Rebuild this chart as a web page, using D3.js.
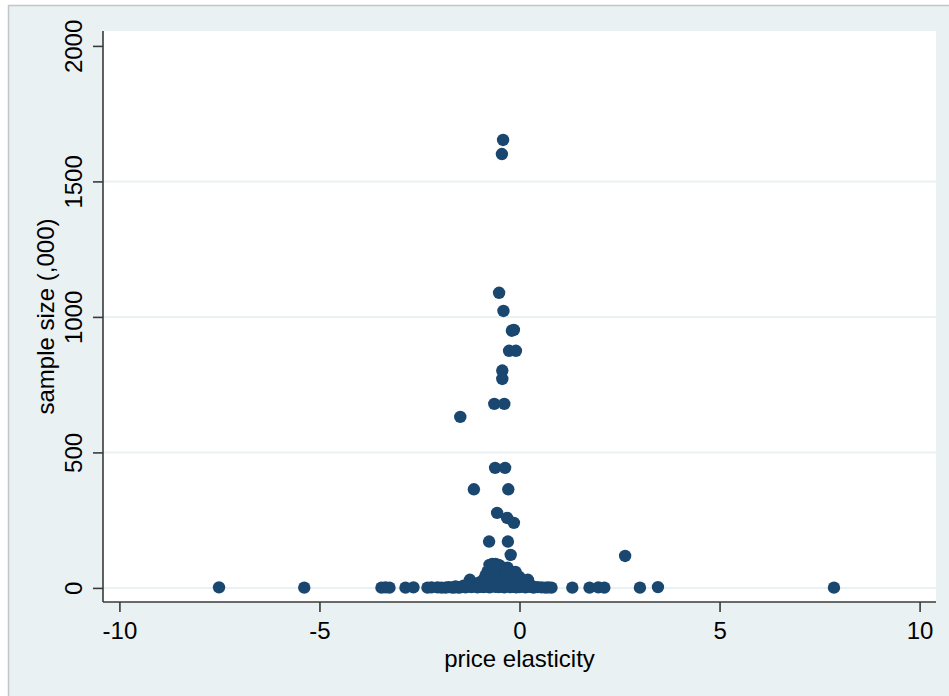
<!DOCTYPE html>
<html>
<head>
<meta charset="utf-8">
<script src="https://cdn.jsdelivr.net/npm/d3@7"></script>
<style>
  html, body { margin: 0; padding: 0; background: #ffffff; }
  svg { display: block; }
  text { font-family: "Liberation Sans", Arial, sans-serif; }
</style>
</head>
<body>
<svg id="chart" width="949" height="696"></svg>
<script>
// ---- data (price elasticity vs sample size in thousands) ----
const elasticity = [
  // baseline (tiny sample sizes)
  -7.51, -5.38, -3.45, -3.35, -3.25, -2.85, -2.65, -2.30, -2.20, -2.05, -1.95, -1.85,
  -1.78, -1.70, -1.65, -1.60, -1.55,
  -1.50, -1.42, -1.35, -1.28, -1.20, -1.12, -1.05, -0.98, -0.90, -0.82, -0.75, -0.68,
  -0.60, -0.52, -0.45, -0.38, -0.30, -0.22, -0.15, -0.08, 0.00, 0.08, 0.15, 0.25,
  0.35, 0.45, 0.55, 0.65, 0.72, 0.80, 1.32, 1.75, 1.97, 2.12, 3.01, 3.46, 7.86,
  // low cluster
  -1.24, -1.15, -1.00, -0.90, -0.85, -0.80, -0.75, -0.68, -0.60, -0.52, -0.45, -0.40,
  -0.35, -0.30, -0.25, -0.20, -0.15, -0.10, 0.00, 0.10, 0.21, -0.60, -0.50, -0.70,
  -0.95, 0.30, -1.40, -1.60,
  -0.85, -0.78, -0.72, -0.65, -0.55, -0.48, -0.42, -0.33, -0.27, -0.18, -0.12, -0.05,
  0.05, -0.65, -0.50,
  // upper points
  2.64, -0.22, -0.76, -0.29, -0.56, -0.31, -0.14, -1.14, -0.28, -0.61, -0.36,
  -1.48, -0.63, -0.38, -0.43, -0.43, -0.26, -0.09, -0.19, -0.14, -0.40, -0.51,
  -0.44, -0.41
];
const sampleSize = [
  // baseline
  2, 1, 1, 2, 1, 1, 2, 1, 2, 2, 1, 1,
  3, 2, 1, 3, 2,
  1, 4, 2, 5, 3, 6, 2, 4, 3, 5, 2, 6,
  4, 3, 5, 2, 6, 3, 4, 2, 3, 5, 2, 4,
  1, 3, 2, 1, 2, 1, 1, 1, 2, 1, 1, 3, 1,
  // low cluster
  30, 12, 20, 30, 45, 60, 85, 88, 88, 85, 70, 55,
  40, 75, 50, 60, 35, 59, 40, 20, 30, 20, 40, 50,
  10, 8, 8, 5,
  20, 35, 65, 75, 60, 80, 30, 65, 20, 45, 25, 30,
  15, 40, 15,
  // upper points
  118, 122, 171, 171, 277, 258, 240, 364, 364, 443, 443,
  631, 679, 679, 802, 771, 875, 875, 949, 952, 1022, 1089,
  1601, 1653
];
const xTicks = [-10, -5, 0, 5, 10];
const yTicks = [0, 500, 1000, 1500, 2000];
const gridValues = [0, 500, 1000, 1500];
const xTitle = "price elasticity";
const yTitle = "sample size (,000)";

const points = elasticity.map((e, i) => ({ x: e, y: sampleSize[i] }));

// ---- layout ----
const W = 949, H = 696;
const plot = { left: 103, right: 936, top: 31, bottom: 602 };
const svg = d3.select("#chart");

// outer graph region
svg.append("rect")
  .attr("x", 8.5).attr("y", 5.5)
  .attr("width", W + 10).attr("height", H + 10)
  .attr("fill", "#eaf1f3")
  .attr("stroke", "#c3c6c8").attr("stroke-width", 1.5);

// plot region
svg.append("rect")
  .attr("x", plot.left).attr("y", plot.top)
  .attr("width", plot.right - plot.left).attr("height", plot.bottom - plot.top)
  .attr("fill", "#ffffff");

const x = d3.scaleLinear().domain([-10.41, 10.41]).range([plot.left, plot.right]);
const y = d3.scaleLinear().domain([-52, 2055]).range([plot.bottom, plot.top]);

// gridlines
svg.append("g").selectAll("line").data(gridValues).join("line")
  .attr("x1", plot.left).attr("x2", plot.right)
  .attr("y1", d => y(d)).attr("y2", d => y(d))
  .attr("stroke", "#eaf1f3").attr("stroke-width", 2);

// points
svg.append("g").selectAll("circle").data(points).join("circle")
  .attr("cx", d => x(d.x)).attr("cy", d => y(d.y))
  .attr("r", 6.2)
  .attr("fill", "#1a476f");

const axisColor = "#3a3a3a";
const fontSize = 24;

// x axis
const gx = svg.append("g").attr("transform", `translate(0,${plot.bottom})`)
  .call(d3.axisBottom(x).tickValues(xTicks).tickSize(10).tickSizeOuter(0).tickFormat(d3.format("d")));
gx.select(".domain").attr("stroke", axisColor).attr("stroke-width", 1.6)
  .attr("d", `M${plot.left},0H${plot.right}`);
gx.selectAll(".tick line").attr("stroke", axisColor).attr("stroke-width", 1.6);
gx.selectAll(".tick text")
  .attr("y", 37).attr("dy", null)
  .attr("fill", "#000").attr("font-size", fontSize)
  .attr("font-family", "'Liberation Sans', Arial, sans-serif")
  .text(d => (d < 0 ? "-" : "") + Math.abs(d));

// y axis
const gy = svg.append("g").attr("transform", `translate(${plot.left},0)`)
  .call(d3.axisLeft(y).tickValues(yTicks).tickSize(10).tickSizeOuter(0).tickFormat(d3.format("d")));
gy.select(".domain").attr("stroke", axisColor).attr("stroke-width", 1.6)
  .attr("d", `M0,${plot.bottom}V${plot.top}`);
gy.selectAll(".tick line").attr("stroke", axisColor).attr("stroke-width", 1.6);
gy.selectAll(".tick text")
  .attr("x", null).attr("dy", null)
  .attr("text-anchor", "middle")
  .attr("transform", "translate(-21,0) rotate(-90)")
  .attr("fill", "#000").attr("font-size", fontSize)
  .attr("font-family", "'Liberation Sans', Arial, sans-serif");

// axis titles
svg.append("text")
  .attr("x", x(0)).attr("y", 667)
  .attr("text-anchor", "middle")
  .attr("font-size", fontSize).attr("fill", "#000")
  .text(xTitle);

svg.append("text")
  .attr("transform", `translate(54,${(plot.top + plot.bottom) / 2}) rotate(-90)`)
  .attr("text-anchor", "middle")
  .attr("font-size", fontSize).attr("fill", "#000")
  .text(yTitle);
</script>
</body>
</html>
